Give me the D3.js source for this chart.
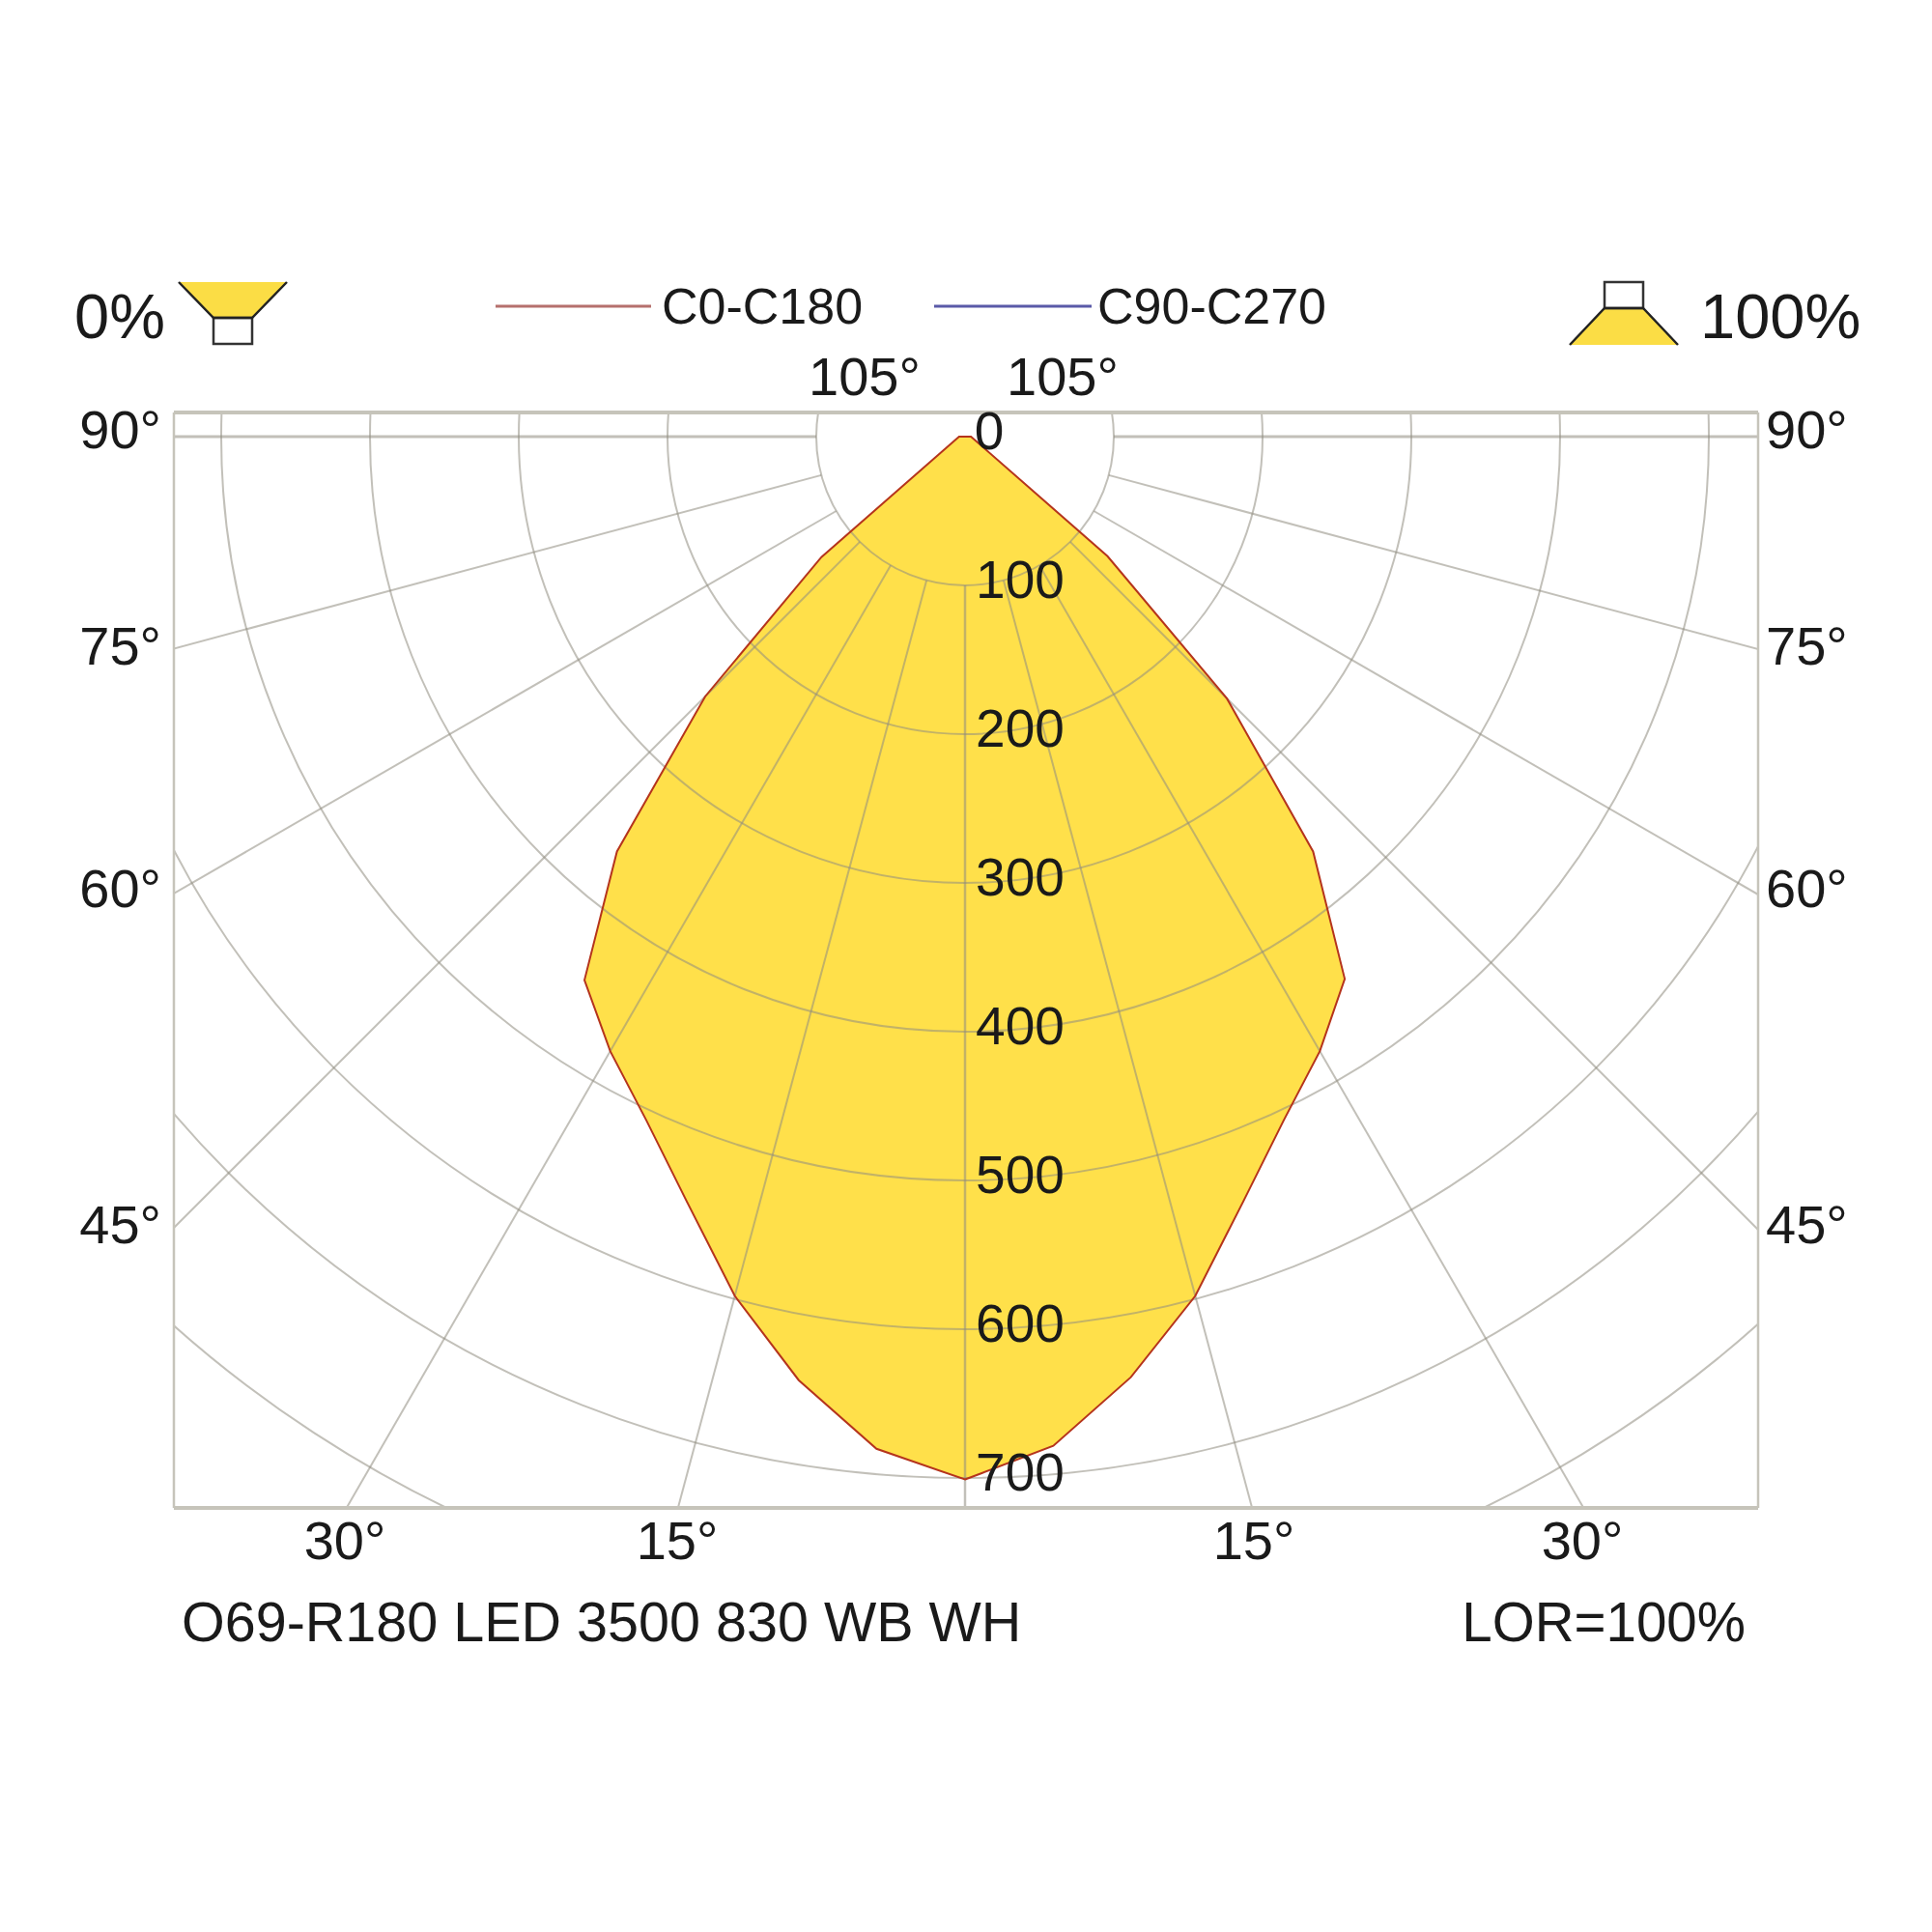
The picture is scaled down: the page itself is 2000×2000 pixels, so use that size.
<!DOCTYPE html>
<html>
<head>
<meta charset="utf-8">
<script src="https://cdn.jsdelivr.net/npm/d3@7"></script>
<style>
  html, body { margin: 0; background: #fff; }
  text { font-family: "Liberation Sans", Arial, sans-serif; fill: #1a1a1a; }
</style>
</head>
<body>
<svg id="chart" width="2000" height="2000"></svg>
<script>
const angles = [0, 5, 10, 15, 20, 25, 30, 35, 40, 45, 50, 90];
const leftValues = [701, 683, 644, 598, 547, 507, 477, 446, 364, 247, 126, 4];
const rightValues = [701, 681, 642, 598, 547, 507, 477, 445, 364, 249, 125, 4];

const radialTicks = [0, 100, 200, 300, 400, 500, 600, 700];
const gridCircles = [100, 200, 300, 400, 500, 600, 700, 800];
const spokeAngles = [15, 30, 45, 60, 75, 90];
const sideLabels = ['90°', '75°', '60°', '45°'];
const sideLabelY = [449, 673, 924, 1272];
const bottomLabels = ['30°', '15°', '15°', '30°'];
const bottomLabelX = [357, 701, 1298, 1638];

const plot = { left: 180, right: 1820, top: 427, bottom: 1561 };
const cx = 999, cy = 452;

const svg = d3.select('#chart');
const r = d3.scaleLinear().domain([0, 100]).range([0, 154]);
const grid = '#8f8c80';

svg.append('defs').append('clipPath').attr('id', 'plotClip').append('rect')
    .attr('x', plot.left).attr('y', plot.top)
    .attr('width', plot.right - plot.left).attr('height', plot.bottom - plot.top);

const clipped = svg.append('g').attr('clip-path', 'url(#plotClip)')
    .append('g').attr('transform', `translate(${cx},${cy})`);

// closed outline: down the right side, back up the left
const rightSide = angles.map((a, i) => [Math.PI - a * Math.PI / 180, r(rightValues[i])]);
const leftSide = angles.map((a, i) => [Math.PI + a * Math.PI / 180, r(leftValues[i])]);
const outline = rightSide.concat(leftSide.slice(1).reverse());
const radial = d3.lineRadial().curve(d3.curveLinearClosed);

clipped.append('path').attr('d', radial(outline)).attr('fill', '#ffe04a');

clipped.selectAll('.ring').data(gridCircles).enter().append('circle')
    .attr('class', 'ring').attr('r', d => r(d))
    .attr('fill', 'none').attr('stroke', grid).attr('stroke-opacity', 0.55).attr('stroke-width', 2);

// spokes start on the 100 ring and run past the frame
const spokes = spokeAngles.flatMap(a => [a, -a]).concat([0]);
clipped.selectAll('.spoke').data(spokes).enter().append('line')
    .attr('class', 'spoke')
    .attr('x1', d => r(100) * Math.sin(d * Math.PI / 180))
    .attr('y1', d => r(100) * Math.cos(d * Math.PI / 180))
    .attr('x2', d => r(1000) * Math.sin(d * Math.PI / 180))
    .attr('y2', d => r(1000) * Math.cos(d * Math.PI / 180))
    .attr('stroke', grid).attr('stroke-opacity', 0.55)
    .attr('stroke-width', d => Math.abs(d) === 90 ? 3 : d === 0 ? 2.5 : 2);

clipped.append('path').attr('d', radial(outline))
    .attr('fill', 'none').attr('stroke', '#b5341c').attr('stroke-width', 2);

// frame, the horizontal edges are heavier in the original
const frame = svg.append('g').attr('stroke', '#c6c4ba');
frame.append('line').attr('x1', plot.left).attr('x2', plot.right).attr('y1', plot.top).attr('y2', plot.top).attr('stroke-width', 4);
frame.append('line').attr('x1', plot.left).attr('x2', plot.right).attr('y1', plot.bottom).attr('y2', plot.bottom).attr('stroke-width', 4);
frame.append('line').attr('x1', plot.left).attr('x2', plot.left).attr('y1', plot.top).attr('y2', plot.bottom).attr('stroke-width', 2.5);
frame.append('line').attr('x1', plot.right).attr('x2', plot.right).attr('y1', plot.top).attr('y2', plot.bottom).attr('stroke-width', 2.5);

// radial value labels
svg.append('g').attr('transform', `translate(${cx},${cy})`)
    .selectAll('.rlabel').data(radialTicks).enter().append('text')
    .attr('class', 'rlabel')
    .attr('x', d => d === 0 ? 25 : 57)
    .attr('y', d => r(d) - 2)
    .attr('text-anchor', 'middle').attr('dominant-baseline', 'middle')
    .attr('font-size', 55).text(d => d);

// angle labels
svg.selectAll('.lleft').data(sideLabels).enter().append('text')
    .attr('x', 167).attr('y', (d, i) => sideLabelY[i]).attr('text-anchor', 'end')
    .attr('dominant-baseline', 'middle').attr('font-size', 56).text(d => d);
svg.selectAll('.lright').data(sideLabels).enter().append('text')
    .attr('x', 1828).attr('y', (d, i) => sideLabelY[i])
    .attr('dominant-baseline', 'middle').attr('font-size', 56).text(d => d);
svg.selectAll('.lbottom').data(bottomLabels).enter().append('text')
    .attr('x', (d, i) => bottomLabelX[i]).attr('y', 1599).attr('text-anchor', 'middle')
    .attr('dominant-baseline', 'middle').attr('font-size', 56).text(d => d);
svg.append('text').attr('x', 895).attr('y', 394).attr('text-anchor', 'middle')
    .attr('dominant-baseline', 'middle').attr('font-size', 56).text('105°');
svg.append('text').attr('x', 1100).attr('y', 394).attr('text-anchor', 'middle')
    .attr('dominant-baseline', 'middle').attr('font-size', 56).text('105°');

// footer
svg.append('text').attr('x', 188).attr('y', 1699).attr('font-size', 57.5)
    .text('O69-R180 LED 3500 830 WB WH');
svg.append('text').attr('x', 1807).attr('y', 1699).attr('text-anchor', 'end')
    .attr('font-size', 56.5).text('LOR=100%');

// legend
svg.append('line').attr('x1', 513).attr('x2', 674).attr('y1', 317).attr('y2', 317)
    .attr('stroke', '#b5706d').attr('stroke-width', 3);
svg.append('text').attr('x', 685).attr('y', 335).attr('font-size', 52).text('C0-C180');
svg.append('line').attr('x1', 967).attr('x2', 1130).attr('y1', 317).attr('y2', 317)
    .attr('stroke', '#5a5aa8').attr('stroke-width', 3);
svg.append('text').attr('x', 1136).attr('y', 335).attr('font-size', 52).text('C90-C270');

// up/down light share icons
svg.append('text').attr('x', 77).attr('y', 350).attr('font-size', 65).text('0%');
svg.append('text').attr('x', 1760).attr('y', 350).attr('font-size', 65).text('100%');

function lampIcon(cxIcon, yBox, yWide, yNarrow) {
    svg.append('polygon')
        .attr('points', [[cxIcon - 56, yWide], [cxIcon + 56, yWide], [cxIcon + 20, yNarrow], [cxIcon - 20, yNarrow]].join(' '))
        .attr('fill', '#fbdd45');
    svg.append('rect').attr('x', cxIcon - 20).attr('y', yBox).attr('width', 40).attr('height', 27)
        .attr('fill', '#fff').attr('stroke', '#333').attr('stroke-width', 2.5);
    svg.append('path').attr('d', `M${cxIcon - 56},${yWide}L${cxIcon - 20},${yNarrow}L${cxIcon + 20},${yNarrow}L${cxIcon + 56},${yWide}`)
        .attr('fill', 'none').attr('stroke', '#222').attr('stroke-width', 2.5);
}
lampIcon(241, 329, 292, 329);
lampIcon(1681, 292, 357, 319);
</script>
</body>
</html>
